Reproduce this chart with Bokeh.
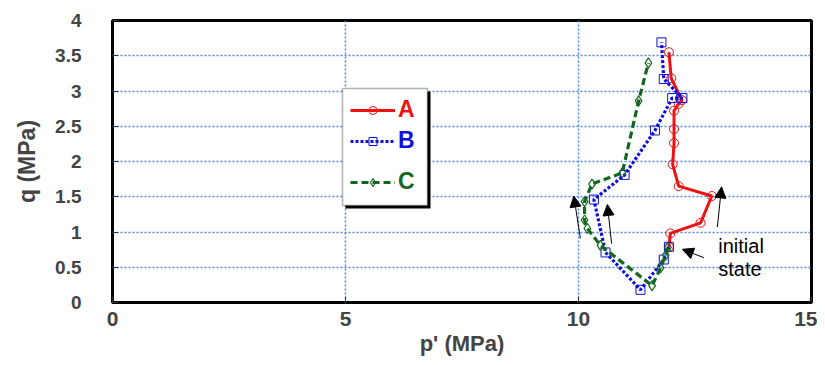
from bokeh.plotting import figure
from bokeh.models import (Legend, LegendItem, Arrow, NormalHead, Label, BoxAnnotation,
                          FixedTicker, Range1d)
from bokeh.embed import file_html
from bokeh.resources import INLINE

# ---- data (p' in MPa, q in MPa) ----
a_p = [11.94, 11.97, 12.62, 12.86, 12.15, 12.02, 12.05, 12.05, 12.05, 12.15, 12.22, 11.99, 11.94]
a_q = [0.79, 0.98, 1.13, 1.51, 1.65, 1.96, 2.26, 2.46, 2.72, 2.82, 2.87, 3.18, 3.55]

b_p = [11.94, 11.83, 11.33, 10.58, 10.33, 10.99, 11.64, 12.01, 12.23, 11.83, 11.78]
b_q = [0.79, 0.61, 0.18, 0.71, 1.46, 1.81, 2.44, 2.90, 2.90, 3.17, 3.69]

c_p = [11.92, 11.87, 11.76, 11.58, 10.47, 10.19, 10.13, 10.13, 10.29, 10.94, 11.29, 11.50]
c_q = [0.78, 0.67, 0.49, 0.24, 0.81, 1.05, 1.17, 1.43, 1.68, 1.84, 2.86, 3.40]

x_ticks = [0, 5, 10, 15]
y_ticks = [0, 0.5, 1, 1.5, 2, 2.5, 3, 3.5, 4]

# annotation arrows: (x_start, y_start, x_end, y_end)
arrows = [
    (10.04, 0.91, 9.90, 1.51),
    (10.71, 0.835, 10.62, 1.39),
    (12.98, 1.07, 13.07, 1.64),
    (12.69, 0.636, 12.23, 0.754),
]

FONT = "Liberation Sans"

p = figure(frame_width=699, frame_height=282,
           min_border_left=112, min_border_right=6, min_border_top=20, min_border_bottom=60,
           x_range=Range1d(0, 15), y_range=Range1d(0, 4),
           output_backend="svg", toolbar_location=None)

p.outline_line_color = "black"
p.outline_line_width = 3
p.background_fill_color = "white"

for ax in (p.xaxis[0], p.yaxis[0]):
    ax.axis_line_color = None
    ax.major_tick_in = 6
    ax.major_tick_out = 0
    ax.major_tick_line_color = "#333333"
    ax.minor_tick_line_color = None
    ax.major_label_text_font = FONT
    ax.major_label_text_font_style = "bold"
    ax.axis_label_text_font = FONT
    ax.axis_label_text_font_style = "bold"

p.xaxis.major_label_text_font_size = "21px"
p.yaxis.major_label_text_font_size = "19px"
p.xaxis.axis_label_text_font_size = "22px"
p.yaxis.axis_label_text_font_size = "23px"
p.xaxis.ticker = FixedTicker(ticks=x_ticks)
p.yaxis.ticker = FixedTicker(ticks=y_ticks)
p.yaxis.major_label_overrides = {0: "0", 1: "1", 2: "2", 3: "3", 4: "4"}
p.xaxis.major_label_standoff = 9
p.yaxis.major_label_standoff = 31
p.xaxis.axis_label = "p' (MPa)"
p.yaxis.axis_label = "q (MPa)"
p.xaxis.axis_label_standoff = 2
p.yaxis.axis_label_standoff = 12

for g in (p.xgrid[0], p.ygrid[0]):
    g.grid_line_color = "#4f86ea"
    g.grid_line_dash = "2 2"
    g.grid_line_width = 1.5

RED, BLUE, GREEN = "#ee1111", "#1010d8", "#13661f"

la = p.line(a_p, a_q, line_color=RED, line_width=3)
sa = p.scatter(a_p, a_q, marker="circle", size=9, line_color=RED, fill_color=None, line_width=1)
lb = p.line(b_p, b_q, line_color=BLUE, line_width=3.2, line_dash="3 2")
sb = p.scatter(b_p, b_q, marker="square", size=9, line_color=BLUE, fill_color=None, line_width=1)
lc = p.line(c_p, c_q, line_color=GREEN, line_width=3.2, line_dash="7 4")
sc = p.scatter(c_p, c_q, marker="diamond", size=10, line_color=GREEN, fill_color=None, line_width=1.2)

for xs, ys, xe, ye in arrows:
    p.add_layout(Arrow(x_start=xs, y_start=ys, x_end=xe, y_end=ye, line_width=1, line_color="black",
                       end=NormalHead(size=11, fill_color="black", line_color="black")))

p.add_layout(Label(x=13.0, y=0.80, text="initial", text_font=FONT, text_font_size="20px",
                   text_baseline="middle", text_color="black"))
p.add_layout(Label(x=13.0, y=0.48, text="state", text_font=FONT, text_font_size="20px",
                   text_baseline="middle", text_color="black"))

# legend box with shadow (screen units, relative to frame)
p.add_layout(BoxAnnotation(left=233, right=318, bottom=94, top=211,
                           left_units="screen", right_units="screen",
                           top_units="screen", bottom_units="screen",
                           fill_color="black", fill_alpha=1, line_color=None, level="annotation"))
p.add_layout(BoxAnnotation(left=230, right=315, bottom=97, top=214,
                           left_units="screen", right_units="screen",
                           top_units="screen", bottom_units="screen",
                           fill_color="white", fill_alpha=1, line_color="black", line_width=1.5,
                           level="annotation"))

for label, rends, col, ypos in (("A", [la, sa], RED, 179), ("B", [lb, sb], BLUE, 148), ("C", [lc, sc], GREEN, 107)):
    lg = Legend(items=[LegendItem(label=label, renderers=rends)], location=(238, ypos),
                border_line_color=None, background_fill_alpha=0, margin=0, padding=0,
                glyph_width=45, glyph_height=20, label_height=20, label_standoff=3,
                label_text_color=col, label_text_font=FONT, label_text_font_style="bold",
                label_text_font_size="23px")
    p.add_layout(lg)

open("out.html", "w").write(file_html(p, INLINE))
